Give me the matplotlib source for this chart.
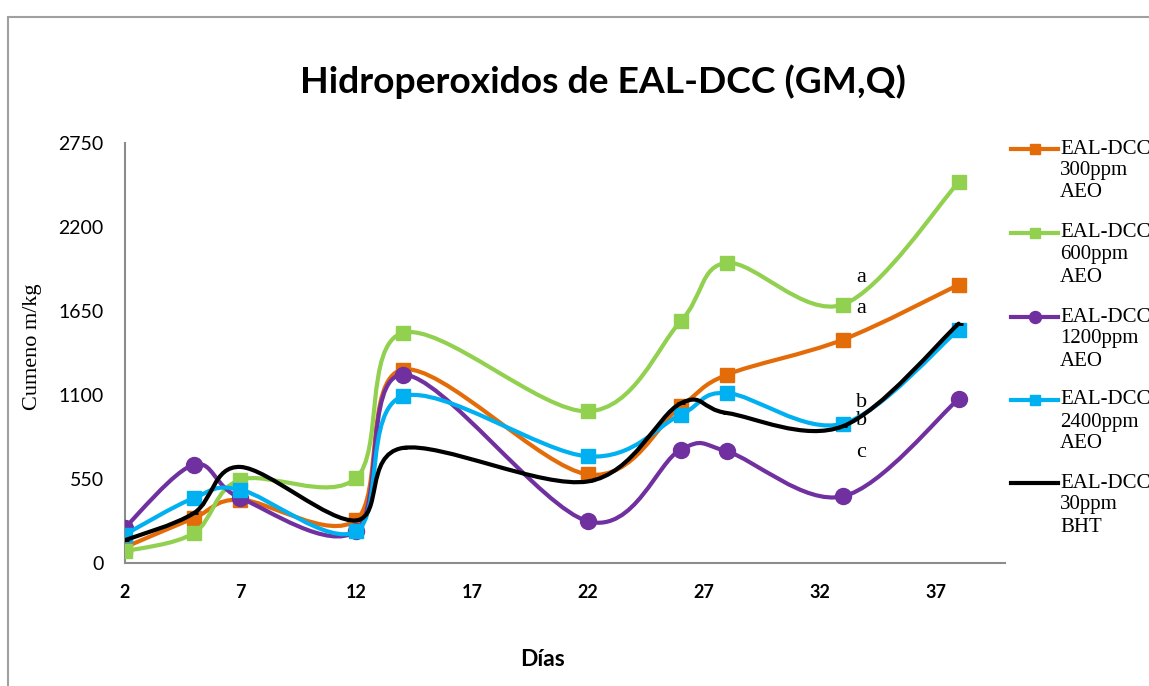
import matplotlib
matplotlib.use("Agg")
import matplotlib.pyplot as plt
from matplotlib.path import Path
from matplotlib.patches import PathPatch, Rectangle
from matplotlib.lines import Line2D

# sampling days and hydroperoxide values (cumeno m/kg) per treatment
dias = [2, 5, 7, 12, 14, 22, 26, 28, 33, 38]
aeo_300 = [102, 295, 415, 283, 1266, 580, 1026, 1233, 1462, 1822]
aeo_600 = [76, 196, 545, 557, 1506, 993, 1582, 1965, 1692, 2493]
aeo_1200 = [229, 644, 426, 210, 1233, 273, 742, 731, 436, 1074]
aeo_2400 = [185, 426, 480, 207, 1091, 698, 971, 1113, 912, 1528]
bht_30 = [148, 327, 629, 279, 753, 534, 1045, 982, 895, 1567]

series_labels = [["EAL-DCC", "300ppm", "AEO"], ["EAL-DCC", "600ppm", "AEO"],
                 ["EAL-DCC", "1200ppm", "AEO"], ["EAL-DCC", "2400ppm", "AEO"],
                 ["EAL-DCC", "30ppm", "BHT"]]
letras = ["a", "a", "b", "b", "c"]
letras_y = [1870, 1665, 1050, 930, 725]

x_ticks = [2, 7, 12, 17, 22, 27, 32, 37]
y_ticks = [0, 550, 1100, 1650, 2200, 2750]

colors = ["#e36c09", "#92d050", "#7030a0", "#00b0f0", "#000000"]
markers = ["s", "s", "o", "s", "_"]
msizes = [10, 10, 11.5, 10, 6]

SANS = "Lato"
SERIF = "Liberation Serif"


def smooth_path(xs, ys):
    # cubic bezier through every point, control points like a Catmull-Rom spline
    pts = list(zip(xs, ys))
    verts = [pts[0]]
    codes = [Path.MOVETO]
    n = len(pts)
    for i in range(n - 1):
        p0 = pts[i - 1] if i > 0 else pts[i]
        p1 = pts[i]
        p2 = pts[i + 1]
        p3 = pts[i + 2] if i + 2 < n else pts[i + 1]
        c1 = (p1[0] + (p2[0] - p0[0]) / 6, p1[1] + (p2[1] - p0[1]) / 6)
        c2 = (p2[0] - (p3[0] - p1[0]) / 6, p2[1] - (p3[1] - p1[1]) / 6)
        verts += [c1, c2, p2]
        codes += [Path.CURVE4] * 3
    return Path(verts, codes)


fig = plt.figure(figsize=(11.49, 6.86), dpi=100)
W, H = 1149, 686

# light grey frame around the chart area
fig.patches.append(Rectangle((7.5 / W, -0.1), 1.2, 1 - 17 / H + 0.1,
                             transform=fig.transFigure, fill=False,
                             edgecolor="#a0a0a0", linewidth=1.5))

ax = fig.add_axes([124.5 / W, 1 - 563 / H, (1005 - 124.5) / W, (563 - 143) / H])
ax.set_xlim(2, 40)
ax.set_ylim(0, 2750)

for s in ["top", "right"]:
    ax.spines[s].set_visible(False)
for s in ["left", "bottom"]:
    ax.spines[s].set_color("#8c8c8c")
    ax.spines[s].set_linewidth(1.5)

ax.set_xticks(x_ticks)
ax.set_yticks(y_ticks)
ax.tick_params(length=0, pad=15)
ax.set_xticklabels([str(t) for t in x_ticks], fontfamily=SANS, fontweight="bold", fontsize=13)
ax.set_yticklabels([str(t) for t in y_ticks], fontfamily=SANS, fontsize=14)

all_series = [aeo_300, aeo_600, aeo_1200, aeo_2400, bht_30]
for vals, col, mk, ms in zip(all_series, colors, markers, msizes):
    ax.add_patch(PathPatch(smooth_path(dias, vals), facecolor="none",
                           edgecolor=col, linewidth=3, zorder=3,
                           capstyle="round", joinstyle="round"))
    ax.plot(dias, vals, linestyle="none", marker=mk, markersize=ms,
            color=col, markeredgecolor=col, markeredgewidth=2 if mk == "_" else 1,
            zorder=3)

# significance letters next to day 33
for txt, yv in zip(letras, letras_y):
    ax.text(33.8, yv, txt, fontfamily=SERIF, fontsize=16, ha="center",
            va="center", zorder=2)

fig.text(603 / W, 1 - 82 / H, "Hidroperoxidos de EAL-DCC (GM,Q)",
         fontfamily=SANS, fontweight="bold", fontsize=26.8, ha="center", va="center")
fig.text(543 / W, 1 - 660 / H, "Días", fontfamily=SANS, fontweight="bold",
         fontsize=16.5, ha="center", va="center")
fig.text(32 / W, 1 - 347 / H, "Cumeno m/kg", fontfamily=SERIF, fontsize=16,
         rotation=90, ha="center", va="center")

# legend drawn by hand: short line with marker, three-line label
leg_y = [149, 233, 317, 400, 483]
for lines, col, mk, ms, ly in zip(series_labels, colors, markers, msizes, leg_y):
    yf = 1 - ly / H
    fig.add_artist(Line2D([1011 / W, 1058 / W], [yf, yf], color=col, linewidth=3,
                          transform=fig.transFigure))
    fig.add_artist(Line2D([1034.5 / W], [yf], marker=mk, markersize=ms * 0.75,
                          color=col, markeredgewidth=2 if mk == "_" else 1,
                          transform=fig.transFigure))
    for k, txt in enumerate(lines):
        fig.text(1060 / W, 1 - (ly + 22 * k) / H, txt, fontfamily=SERIF,
                 fontsize=15, ha="left", va="center")

fig.savefig("out.png", dpi=100)
